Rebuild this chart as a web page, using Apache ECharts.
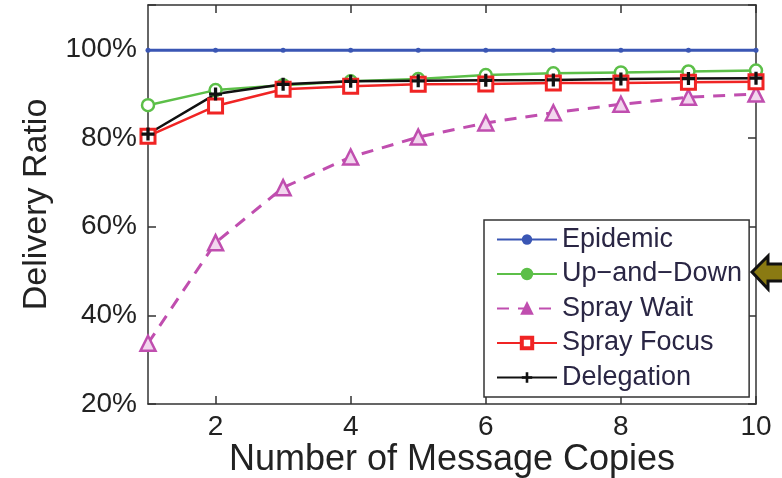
<!DOCTYPE html>
<html>
<head>
<meta charset="utf-8">
<script src="https://cdn.jsdelivr.net/npm/echarts@6/dist/echarts.min.js"></script>
<style>
  html, body { margin: 0; padding: 0; background: #fff; }
  #chart { width: 782px; height: 478px; }
</style>
</head>
<body>
<div id="chart"></div>
<script>
// Number of message copies (x values)
const copies = [1, 2, 3, 4, 5, 6, 7, 8, 9, 10];
const xTicks = [2, 4, 6, 8, 10];
const yTicks = [20, 40, 60, 80, 100];

// Series names as printed in the legend
const names = ['Epidemic', 'Up\u2212and\u2212Down', 'Spray Wait', 'Spray Focus', 'Delegation'];

// Delivery ratio (%) per routing scheme
const epidemic   = [99.8, 99.8, 99.8, 99.8, 99.8, 99.8, 99.8, 99.8, 99.8, 99.8];
const upAndDown  = [87.4, 90.8, 91.9, 92.8, 93.3, 94.2, 94.6, 94.8, 95.0, 95.2];
const sprayWait  = [33.7, 56.4, 68.8, 75.7, 80.2, 83.4, 85.7, 87.6, 89.2, 89.9];
const sprayFocus = [80.4, 87.2, 91.0, 91.7, 92.1, 92.2, 92.4, 92.4, 92.6, 92.7];
const delegation = [80.9, 89.9, 92.1, 92.8, 92.9, 93.0, 93.1, 93.3, 93.4, 93.5];

const pairs = ys => copies.map((x, i) => [x, ys[i]]);
const FONT = 'Liberation Sans, Arial, sans-serif';
const PLUS = 'path://M-1,-4h2v3h3v2h-3v3h-2v-3h-3v-2h3z';
const C = { blue: '#3a56b4', green: '#5cbf48', magenta: '#c04eaf', red: '#f02424', black: '#111' };

const chart = echarts.init(document.getElementById('chart'), null, { renderer: 'canvas' });

const frameLine = { show: true, onZero: false, lineStyle: { color: '#333', width: 1.5 } };
const innerTick = { show: true, inside: true, length: 8, lineStyle: { color: '#333', width: 1.5 } };

chart.setOption({
  backgroundColor: '#fff',
  animation: false,
  grid: { left: 148, right: 26, top: 5, bottom: 74, containLabel: false, outerBoundsMode: 'none' },
  xAxis: [
    {
      type: 'value', min: 1, max: 10, position: 'bottom',
      name: 'Number of Message Copies', nameLocation: 'middle', nameGap: 38,
      nameMoveOverlap: false,
      nameTextStyle: { fontFamily: FONT, fontSize: 36, color: '#222' },
      axisLine: frameLine,
      axisTick: Object.assign({ customValues: xTicks }, innerTick),
      axisLabel: { customValues: xTicks, fontFamily: FONT, fontSize: 28, color: '#222', margin: 9 },
      splitLine: { show: false }
    },
    {
      type: 'value', min: 1, max: 10, position: 'top',
      axisLine: frameLine,
      axisTick: Object.assign({ customValues: xTicks }, innerTick),
      axisLabel: { show: false },
      splitLine: { show: false }
    }
  ],
  yAxis: [
    {
      type: 'value', min: 20, max: 110, interval: 20, position: 'left',
      name: 'Delivery Ratio', nameLocation: 'middle', nameGap: 94, nameRotate: 90,
      nameMoveOverlap: false,
      nameTextStyle: { fontFamily: FONT, fontSize: 34, color: '#222' },
      axisLine: frameLine,
      axisTick: innerTick,
      axisLabel: {
        fontFamily: FONT, fontSize: 28, color: '#222', margin: 11,
        padding: [6, 0, 0, 0],
        formatter: v => (yTicks.includes(v) ? v + '%' : '')
      },
      splitLine: { show: false }
    },
    {
      type: 'value', min: 20, max: 110, interval: 20, position: 'right',
      axisLine: frameLine,
      axisTick: innerTick,
      axisLabel: { show: false },
      splitLine: { show: false }
    }
  ],
  legend: {
    orient: 'vertical',
    left: 484, top: 220,
    backgroundColor: '#fff',
    borderColor: '#333', borderWidth: 1.5, borderRadius: 0,
    padding: [6, 7, 6, 12],
    itemWidth: 60, itemHeight: 13, itemGap: 7.5,
    textStyle: { fontFamily: FONT, fontSize: 27, color: '#2a2644' },
    data: [
      { name: names[0], itemStyle: { color: C.blue } },
      { name: names[1], itemStyle: { color: C.green, borderColor: C.green } },
      { name: names[2], itemStyle: { color: C.magenta, borderColor: C.magenta } },
      { name: names[3], itemStyle: { color: '#fff', borderColor: C.red, borderWidth: 4 } },
      { name: names[4], itemStyle: { color: C.black } }
    ]
  },
  series: [
    {
      name: names[0], type: 'line', data: pairs(epidemic),
      symbol: 'circle', symbolSize: 5,
      lineStyle: { color: C.blue, width: 3 },
      itemStyle: { color: C.blue }
    },
    {
      name: names[1], type: 'line', data: pairs(upAndDown),
      symbol: 'circle', symbolSize: 12,
      lineStyle: { color: C.green, width: 2.5 },
      itemStyle: { color: '#ffffff', borderColor: C.green, borderWidth: 2.5 }
    },
    {
      name: names[2], type: 'line', data: pairs(sprayWait),
      symbol: 'triangle', symbolSize: 15,
      lineStyle: { color: C.magenta, width: 3, type: [12, 9] },
      itemStyle: { color: '#f2d6ee', borderColor: C.magenta, borderWidth: 2.5 }
    },
    {
      name: names[3], type: 'line', data: pairs(sprayFocus),
      symbol: 'rect', symbolSize: 14,
      lineStyle: { color: C.red, width: 2.5 },
      itemStyle: { color: '#ffffff', borderColor: C.red, borderWidth: 3 }
    },
    {
      name: names[4], type: 'line', data: pairs(delegation),
      symbol: PLUS, symbolSize: 13,
      lineStyle: { color: C.black, width: 2.5 },
      itemStyle: { color: C.black }
    }
  ],
  graphic: [
    {
      // pointer arrow beside the legend
      type: 'polygon',
      shape: { points: [[752, 272], [768, 256], [768, 264], [786, 264], [786, 281], [768, 281], [768, 289]] },
      style: { fill: '#8a7a12', stroke: '#111', lineWidth: 3, lineJoin: 'miter' },
      z: 10
    }
  ]
});
</script>
</body>
</html>
